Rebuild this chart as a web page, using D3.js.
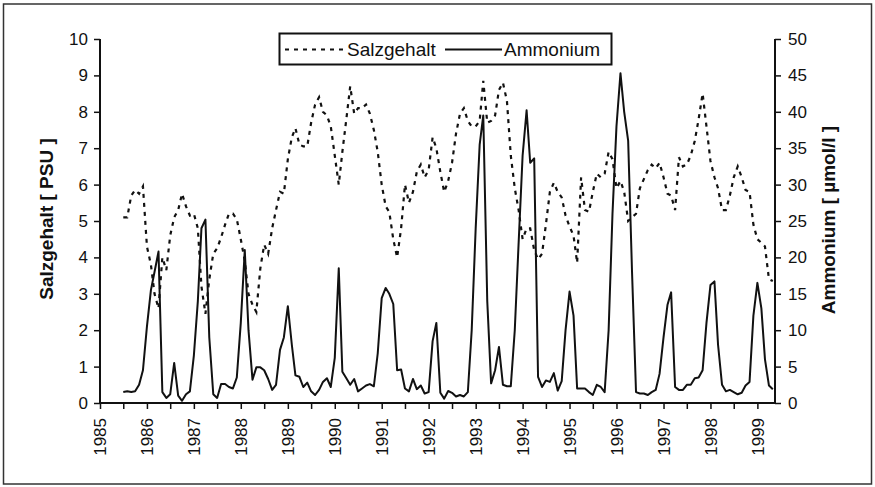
<!DOCTYPE html>
<html>
<head>
<meta charset="utf-8">
<script src="https://cdn.jsdelivr.net/npm/d3@7"></script>
<style>
    body { margin: 0; background: #fff; }
    svg text { font-family: "Liberation Sans", Arial, sans-serif; fill: #111; }
</style>
</head>
<body>
<div id="chart"></div>
<script>

// monthly samples, first value July 1985, last value May 1999
const firstMonth = new Date(1985, 6, 1);
const lastMonth = new Date(1999, 4, 1);

// Salzgehalt [PSU]
const salzgehalt = [
    5.1, 5.1, 5.7, 5.85, 5.75, 5.95,
    4.3, 3.8, 3.0, 2.6, 4.0, 3.65, 4.6, 5.1, 5.3, 5.75, 5.4, 5.15,
    5.2, 4.8, 3.2, 2.45, 3.4, 4.1, 4.25, 4.55, 4.9, 5.2, 5.2, 5.05,
    4.5, 3.9, 3.0, 2.7, 2.5, 3.7, 4.35, 4.1, 4.8, 5.3, 5.8, 5.75,
    6.7, 7.3, 7.55, 7.1, 7.05, 7.05, 7.7, 8.2, 8.4, 8.0, 7.9, 7.6,
    6.8, 6.0, 6.9, 7.8, 8.7, 7.95, 8.1, 8.1, 8.2, 7.95, 7.5, 6.9,
    6.0, 5.4, 5.25, 4.5, 4.0, 4.8, 6.0, 5.5, 5.8, 6.35, 6.55, 6.2,
    6.4, 7.3, 7.0, 6.35, 5.8, 6.1, 6.6, 7.4, 7.95, 8.1, 7.75, 7.6,
    7.6, 7.75, 8.85, 7.7, 7.75, 7.9, 8.6, 8.8, 8.3, 6.8, 5.9, 5.3,
    4.5, 4.8, 4.8, 4.2, 3.95, 4.1, 4.9, 5.8, 6.05, 5.8, 5.65, 5.15,
    4.85, 4.6, 3.85, 6.2, 5.3, 5.25, 5.8, 6.3, 6.2, 6.3, 6.9, 6.7,
    5.9, 6.1, 5.8, 5.0, 5.1, 5.2, 5.9, 6.15, 6.4, 6.55, 6.45, 6.6,
    6.2, 5.75, 5.7, 5.3, 6.75, 6.5, 6.55, 6.8, 7.2, 7.8, 8.5, 7.6,
    6.65, 6.2, 5.9, 5.3, 5.3, 5.7, 6.2, 6.5, 6.2, 5.85, 5.8, 4.9,
    4.5, 4.4, 4.3, 3.4, 3.35
];

// Ammonium [µmol/l]
const ammonium = [
    1.5, 1.6, 1.5, 1.6, 2.5, 4.5,
    10.5, 15.5, 18, 20.8, 1.5, 0.7, 1.2, 5.5, 1.0, 0.3, 1.2, 1.6,
    6.5, 14, 24, 25.2, 9, 1.2, 0.7, 2.6, 2.6, 2.2, 2.0, 3.5,
    11, 21, 10, 3.2, 4.9, 4.9, 4.5, 3.3, 1.8, 2.5, 7.3, 9,
    13.3, 8, 3.8, 3.6, 2.2, 2.8, 1.6, 1.1, 1.8, 2.9, 3.4, 2.2,
    6.2, 18.5, 4.3, 3.4, 2.5, 3.3, 1.6, 2.0, 2.4, 2.6, 2.3, 6.8,
    14.4, 15.8, 15, 13.6, 4.5, 4.6, 2.0, 1.6, 3.3, 1.9, 2.4, 1.3,
    1.5, 8.5, 11, 1.4, 0.6, 1.65, 1.4, 0.9, 1.1, 0.9, 1.5, 10,
    24, 35.5, 39.5, 14, 2.7, 4.5, 7.7, 2.5, 2.3, 2.3, 10, 22,
    34, 40.2, 33, 33.6, 3.6, 2.2, 3.1, 2.9, 4.1, 1.7, 3.0, 10,
    15.3, 12, 2.0, 2.0, 2.0, 1.5, 1.1, 2.5, 2.2, 1.5, 10, 26,
    38, 45.3, 40, 36, 18, 1.5, 1.3, 1.3, 1.1, 1.5, 1.8, 4,
    9, 13.5, 15.2, 2.2, 1.8, 1.8, 2.5, 2.5, 3.4, 3.5, 4.5, 11,
    16.2, 16.7, 8, 2.5, 1.6, 1.8, 1.5, 1.2, 1.4, 2.4, 2.9, 12,
    16.5, 13, 6, 2.4, 1.9
];

const leftTicks = [0, 1, 2, 3, 4, 5, 6, 7, 8, 9, 10];
const rightTicks = [0, 5, 10, 15, 20, 25, 30, 35, 40, 45, 50];
const yearLabels = ["1985", "1986", "1987", "1988", "1989", "1990", "1991",
    "1992", "1993", "1994", "1995", "1996", "1997", "1998", "1999"];

// dimensions
const width = 875, height = 487;
const plot = { left: 100, right: 775, top: 39, bottom: 403 };

const months = d3.timeMonth.range(firstMonth, d3.timeMonth.offset(lastMonth, 1));

// scales
const x = d3.scaleTime()
    .domain([new Date(1985, 0, 1), new Date(1999, 4, 18)])
    .range([plot.left, plot.right]);
const yLeft = d3.scaleLinear().domain([0, 10]).range([plot.bottom, plot.top]);
const yRight = d3.scaleLinear().domain([0, 50]).range([plot.bottom, plot.top]);

// create svg
const svg = d3.select("#chart")
    .append("svg")
    .attr("width", width)
    .attr("height", height);

// outer frame
svg.append("rect")
    .attr("x", 3.5).attr("y", 4)
    .attr("width", 868).attr("height", 480)
    .attr("fill", "none")
    .attr("stroke", "#333")
    .attr("stroke-width", 1.5);

// lines
const salzLine = d3.line()
    .x((d, i) => x(months[i]))
    .y(d => yLeft(d));
const ammLine = d3.line()
    .x((d, i) => x(months[i]))
    .y(d => yRight(d));

svg.append("path")
    .attr("d", ammLine(ammonium))
    .attr("fill", "none")
    .attr("stroke", "#111")
    .attr("stroke-width", 2)
    .attr("stroke-linejoin", "round");

svg.append("path")
    .attr("d", salzLine(salzgehalt))
    .attr("fill", "none")
    .attr("stroke", "#111")
    .attr("stroke-width", 2.2)
    .attr("stroke-dasharray", "4,5");

// left axis
const leftAxis = d3.axisLeft(yLeft)
    .tickValues(leftTicks)
    .tickSize(6)
    .tickPadding(6)
    .tickFormat(d3.format("d"));
const gl = svg.append("g")
    .attr("transform", `translate(${plot.left},0)`)
    .call(leftAxis);

// right axis
const rightAxis = d3.axisRight(yRight)
    .tickValues(rightTicks)
    .tickSize(6)
    .tickPadding(7)
    .tickFormat(d3.format("d"));
const gr = svg.append("g")
    .attr("transform", `translate(${plot.right},0)`)
    .call(rightAxis);

// x axis, ticks every half year, labels on january only
const halfYears = d3.timeMonth.every(6).range(new Date(1985, 0, 1), new Date(1999, 1, 1));
const xAxis = d3.axisBottom(x)
    .tickValues(halfYears)
    .tickSize(6)
    .tickFormat(d => d.getMonth() === 0 ? yearLabels[d.getFullYear() - 1985] : "");
const gx = svg.append("g")
    .attr("transform", `translate(0,${plot.bottom})`)
    .call(xAxis);
gx.selectAll(".tick text")
    .attr("transform", "rotate(-90)")
    .attr("text-anchor", "end")
    .attr("x", -15)
    .attr("y", 0)
    .attr("dy", "0.35em");

// common axis styling
[gl, gr, gx].forEach(g => {
    g.select(".domain").attr("stroke", "#111").attr("stroke-width", 2);
    g.selectAll(".tick line").attr("stroke", "#111").attr("stroke-width", 1.5);
    g.selectAll(".tick text").style("font-size", "17px").attr("fill", "#111");
});
gl.select(".domain").attr("d", `M0,${plot.bottom}V${plot.top}`);
gr.select(".domain").attr("d", `M0,${plot.bottom}V${plot.top}`);
gx.select(".domain").attr("d", `M${plot.left},0H${plot.right}`);

// axis titles
svg.append("text")
    .attr("transform", "translate(53,219) rotate(-90)")
    .attr("text-anchor", "middle")
    .style("font-size", "19px")
    .style("font-weight", "bold")
    .text("Salzgehalt [ PSU ]");
svg.append("text")
    .attr("transform", "translate(835,220) rotate(-90)")
    .attr("text-anchor", "middle")
    .style("font-size", "19px")
    .style("font-weight", "bold")
    .text("Ammonium [ µmol/l ]");

// legend
const lg = svg.append("g").attr("id", "legend");
lg.append("rect")
    .attr("x", 279.5).attr("y", 33.5)
    .attr("width", 332).attr("height", 31)
    .attr("fill", "#fff")
    .attr("stroke", "#111")
    .attr("stroke-width", 2);
lg.append("line")
    .attr("x1", 285).attr("x2", 345)
    .attr("y1", 49.5).attr("y2", 49.5)
    .attr("stroke", "#111")
    .attr("stroke-width", 2.2)
    .attr("stroke-dasharray", "4,5");
lg.append("text")
    .attr("x", 347).attr("y", 49.5).attr("dy", "0.35em")
    .style("font-size", "19px")
    .text("Salzgehalt");
lg.append("line")
    .attr("x1", 445).attr("x2", 502)
    .attr("y1", 49.5).attr("y2", 49.5)
    .attr("stroke", "#111")
    .attr("stroke-width", 2);
lg.append("text")
    .attr("x", 504).attr("y", 49.5).attr("dy", "0.35em")
    .style("font-size", "19px")
    .text("Ammonium");

</script>
</body>
</html>
